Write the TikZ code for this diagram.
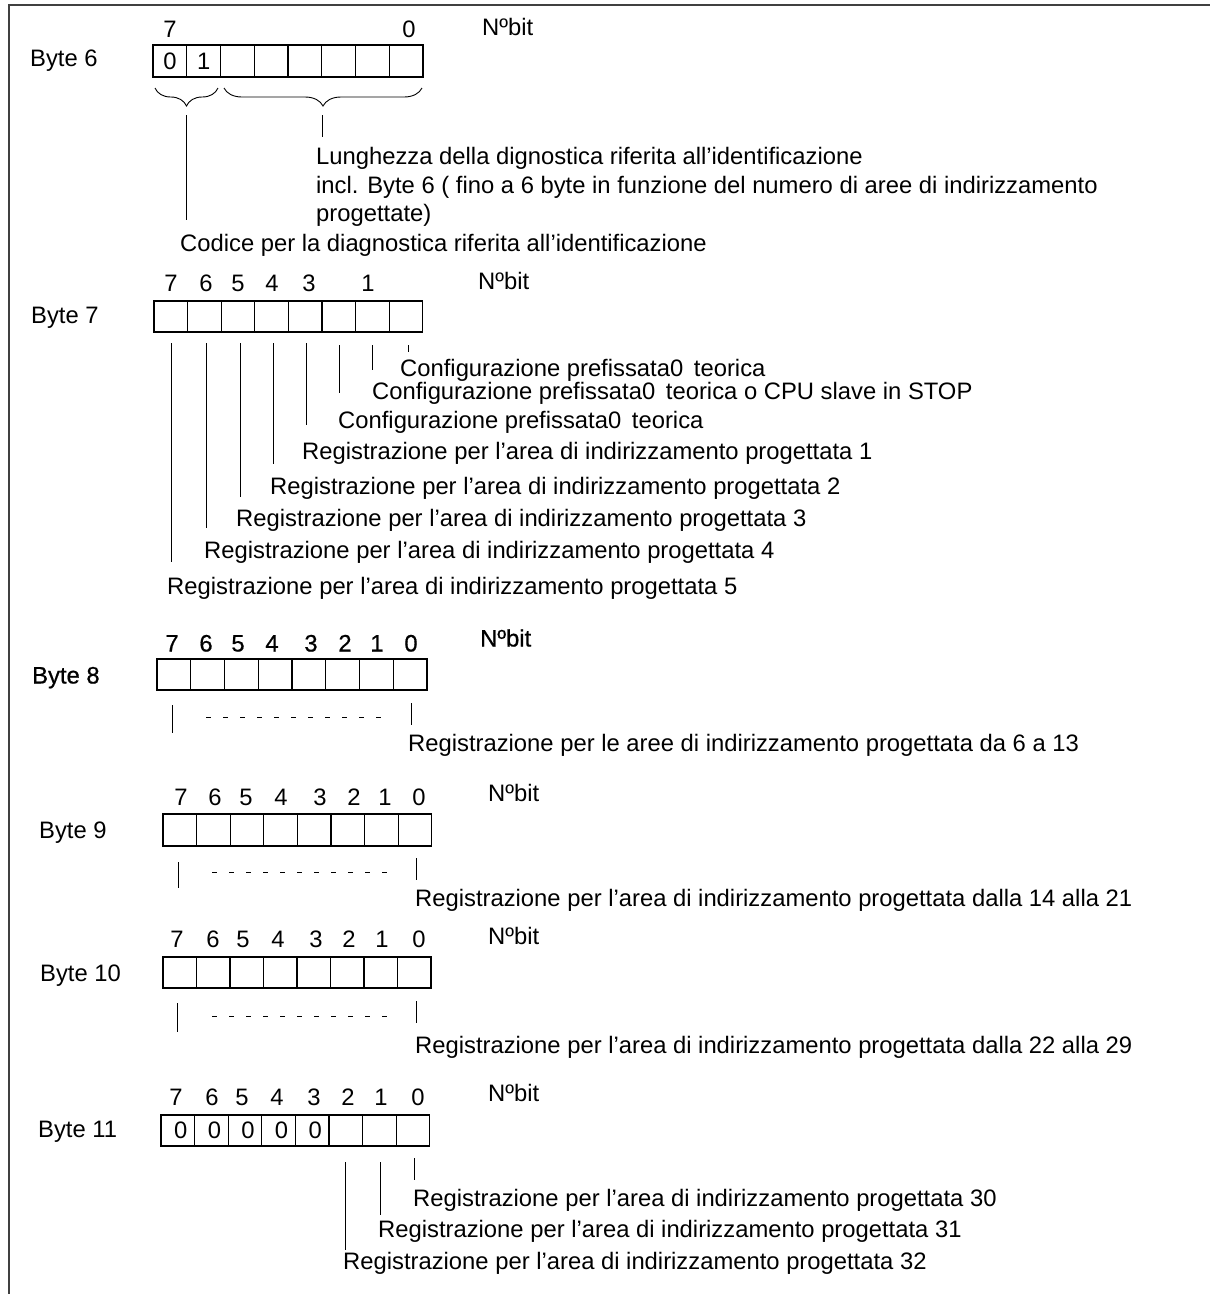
\documentclass[tikz,border=0pt]{standalone}
\usepackage{fontspec}
\setmainfont{Liberation Sans}
\newfontfamily\heavyface[FakeBold=0.7]{Liberation Sans}
\usetikzlibrary{decorations.pathreplacing}

% eight bit cells of one byte: name, left x, top y, cell width, cell height
\newcommand\drawbyte[5]{%
  \foreach \i in {0,...,7}{%
    \node[cell, minimum width=#4pt, minimum height=#5pt]
      (#1c\i) at ({#2+(7-\i)*#4},#3) {};
  }%
}

\begin{document}
\begin{tikzpicture}[x=1pt,y=-1pt,
  txt/.style={anchor=base west,inner sep=0pt,font=\fontsize{23.8}{28}\selectfont},
  num/.style={anchor=base,inner sep=0pt,font=\fontsize{23.8}{28}\selectfont},
  digit/.style={anchor=center,inner sep=0pt,font=\fontsize{23.8}{28}\selectfont},
  cell/.style={draw,line width=1.1pt,inner sep=0pt,outer sep=0pt,anchor=north west},
  lead/.style={line width=0.9pt},
  dots/.style={line width=0.9pt,dash pattern=on 5pt off 12pt},
  curly/.style={line width=0.9pt,decorate,decoration={brace,amplitude=18pt}},
  frame/.style={line width=2pt,black!75}]

\useasboundingbox (0,0) rectangle (1210,1294);
\draw[frame] (9,1294) -- (9,5) -- (1210,5);

% ---------------- Byte 6 ----------------
\node[txt] (lb6) at (30,66.5) {Byte 6};
\node[num] (b6n7) at (170,37.5) {7};
\node[num] (b6n0) at (409,37.5) {0};
\node[txt] (b6nb) at (482,35.5) {Nºbit};
\drawbyte{b6}{153}{45}{33.75}{32}
\node[digit] (b6d7) at (b6c7.center) {0};
\node[digit] (b6d6) at (b6c6.center) {1};
\coordinate (br1a) at (218,88);  \coordinate (br1b) at (155,88);
\coordinate (br2a) at (422,88);  \coordinate (br2b) at (224,88);
\draw[curly] (br1a) -- (br1b);
\draw[curly] (br2a) -- (br2b);
\coordinate (l6at) at (186.5,115); \coordinate (l6ab) at (186.5,220);
\coordinate (l6bt) at (322,115);   \coordinate (l6bb) at (322,137);
\draw[lead] (l6at) -- (l6ab);
\draw[lead] (l6bt) -- (l6bb);
\node[txt] (t6a) at (316,164.5) {Lunghezza della dignostica riferita all’identificazione};
\node[txt] (t6b) at (316,193.5) {incl. Byte 6 ( fino a 6 byte in funzione del numero di aree di indirizzamento};
\node[txt] (t6c) at (316,221.5) {progettate)};
\node[txt] (t6d) at (180,251) {Codice per la diagnostica riferita all’identificazione};

% ---------------- Byte 7 ----------------
\node[txt] (lb7) at (31,323.5) {Byte 7};
\foreach \b/\x in {7/171,6/206,5/238,4/272,3/309,1/368}
  \node[num] (b7n\b) at (\x,291.5) {\b};
\node[txt] (b7nb) at (478,289.5) {Nºbit};
\drawbyte{b7}{154}{301}{33.6}{31}
\foreach \b/\x/\yt/\yb in {0/408/345/352,1/372/345/370,2/339/345/393,3/306/343/425,
                           4/273/343/464,5/240/343/497,6/206/343/528,7/171/343/562}{
  \coordinate (l7t\b) at (\x,\yt);
  \coordinate (l7b\b) at (\x,\yb);
  \draw[lead] (l7t\b) -- (l7b\b);
}
\node[txt] (t7c0) at (400,376.5) {Configurazione prefissata0\hspace{0.45em}teorica};
\node[txt] (t7c1) at (372,399.5) {Configurazione prefissata0\hspace{0.45em}teorica o CPU slave in STOP};
\node[txt] (t7c2) at (338,428.5) {Configurazione prefissata0\hspace{0.45em}teorica};
\node[txt] (t7c3) at (302,459.5) {Registrazione per l’area di indirizzamento progettata 1};
\node[txt] (t7c4) at (270,494.5) {Registrazione per l’area di indirizzamento progettata 2};
\node[txt] (t7c5) at (236,526.5) {Registrazione per l’area di indirizzamento progettata 3};
\node[txt] (t7c6) at (204,558.5) {Registrazione per l’area di indirizzamento progettata 4};
\node[txt] (t7c7) at (167,594.5) {Registrazione per l’area di indirizzamento progettata 5};

% ---------------- Byte 8 ----------------
\node[txt,font=\fontsize{23.8}{28}\heavyface] (lb8) at (32,683.5) {Byte 8};
\foreach \b/\x in {7/172,6/206,5/238,4/272,3/311,2/345,1/377,0/411}
  \node[num,font=\fontsize{23.8}{28}\heavyface] (b8n\b) at (\x,651.5) {\b};
\node[txt,font=\fontsize{23.8}{28}\heavyface] (b8nb) at (480,646.5) {Nºbit};
\drawbyte{b8}{157}{659}{33.75}{31}
\coordinate (l8at) at (172,705); \coordinate (l8ab) at (172,733);
\coordinate (l8bt) at (411,703); \coordinate (l8bb) at (411,725);
\coordinate (d8a) at (206,717);  \coordinate (d8b) at (381,717);
\draw[lead] (l8at) -- (l8ab);
\draw[lead] (l8bt) -- (l8bb);
\draw[dots] (d8a) -- (d8b);
\node[txt] (t8) at (408,751.5) {Registrazione per le aree di indirizzamento progettata da 6 a 13};

% ---------------- Byte 9 ----------------
\node[txt] (lb9) at (39,838.5) {Byte 9};
\foreach \b/\x in {7/181,6/215,5/246,4/281,3/320,2/354,1/385,0/419}
  \node[num] (b9n\b) at (\x,805.5) {\b};
\node[txt] (b9nb) at (488,801.5) {Nºbit};
\drawbyte{b9}{163}{814}{33.6}{32}
\coordinate (l9at) at (178,862); \coordinate (l9ab) at (178,888);
\coordinate (l9bt) at (416,858); \coordinate (l9bb) at (416,880);
\coordinate (d9a) at (212,872);  \coordinate (d9b) at (387,872);
\draw[lead] (l9at) -- (l9ab);
\draw[lead] (l9bt) -- (l9bb);
\draw[dots] (d9a) -- (d9b);
\node[txt] (t9) at (415,906.5) {Registrazione per l’area di indirizzamento progettata dalla 14 alla 21};

% ---------------- Byte 10 ----------------
\node[txt] (lb10) at (40,981.5) {Byte 10};
\foreach \b/\x in {7/177,6/213,5/243,4/278,3/316,2/349,1/382,0/419}
  \node[num] (b10n\b) at (\x,947.5) {\b};
\node[txt] (b10nb) at (488,944.5) {Nºbit};
\drawbyte{b10}{163}{957}{33.5}{31}
\coordinate (l10at) at (177,1003); \coordinate (l10ab) at (177,1032);
\coordinate (l10bt) at (416,1001); \coordinate (l10bb) at (416,1023);
\coordinate (d10a) at (212,1016);  \coordinate (d10b) at (387,1016);
\draw[lead] (l10at) -- (l10ab);
\draw[lead] (l10bt) -- (l10bb);
\draw[dots] (d10a) -- (d10b);
\node[txt] (t10) at (415,1053.5) {Registrazione per l’area di indirizzamento progettata dalla 22 alla 29};

% ---------------- Byte 11 ----------------
\node[txt] (lb11) at (38,1137.5) {Byte 11};
\foreach \b/\x in {7/176,6/212,5/242,4/277,3/314,2/348,1/381,0/418}
  \node[num] (b11n\b) at (\x,1105.5) {\b};
\node[txt] (b11nb) at (488,1101.5) {Nºbit};
\drawbyte{b11}{161}{1115}{33.6}{31}
\foreach \b in {7,6,5,4,3}
  \node[digit] (b11d\b) at ([xshift=3pt]b11c\b.center) {0};
\foreach \b/\x/\yt/\yb in {0/414/1158/1180,1/380/1162/1215,2/345/1162/1250}{
  \coordinate (l11t\b) at (\x,\yt);
  \coordinate (l11b\b) at (\x,\yb);
  \draw[lead] (l11t\b) -- (l11b\b);
}
\node[txt] (t11c0) at (413,1206.5) {Registrazione per l’area di indirizzamento progettata 30};
\node[txt] (t11c1) at (378,1237.5) {Registrazione per l’area di indirizzamento progettata 31};
\node[txt] (t11c2) at (343,1269.5) {Registrazione per l’area di indirizzamento progettata 32};

\end{tikzpicture}
\end{document}
